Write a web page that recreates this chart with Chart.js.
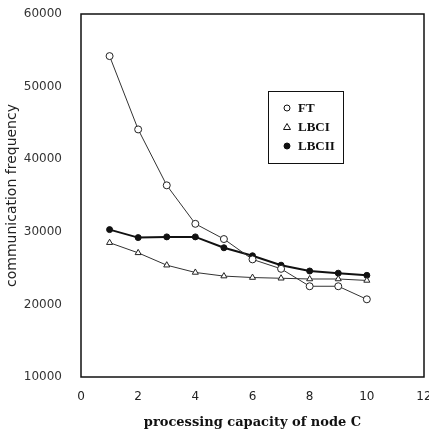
<!DOCTYPE html>
<html>
<head>
<meta charset="utf-8">
<script src="https://cdn.jsdelivr.net/npm/chart.js@4/dist/chart.umd.min.js"></script>
<style>
  html, body { margin: 0; padding: 0; background: #fff; }
  #wrap { width: 429px; height: 432px; position: relative; }
</style>
</head>
<body>
<div id="wrap"><canvas id="commChart"></canvas></div>
<script>
const capacity = [1, 2, 3, 4, 5, 6, 7, 8, 9, 10];
const ftValues = [54200, 44100, 36400, 31100, 29000, 26200, 24900, 22500, 22500, 20700];
const lbc1Values = [28500, 27100, 25400, 24400, 23900, 23700, 23600, 23500, 23500, 23300];
const lbc2Values = [30300, 29200, 29300, 29300, 27800, 26700, 25400, 24600, 24300, 24000];
const seriesNames = ["FT", "LBCI", "LBCII"];

const toPoints = (vals) => vals.map((v, i) => ({ x: capacity[i], y: v }));

// frame round the plot and the inset legend
const framePlugin = {
  id: "frame",
  afterDraw(chart) {
    const { ctx, chartArea: a } = chart;
    ctx.save();
    ctx.strokeStyle = "#111";
    ctx.lineWidth = 1.5;
    ctx.strokeRect(a.left, a.top, a.right - a.left, a.bottom - a.top);

    // legend box
    const bx = 268, by = 91, bw = 75, bh = 72;
    ctx.lineWidth = 1;
    ctx.strokeRect(bx + 0.5, by + 0.5, bw, bh);
    ctx.font = "bold 13px 'Liberation Serif', 'DejaVu Serif', serif";
    ctx.textBaseline = "middle";
    chart.data.datasets.forEach((ds, i) => {
      const y = by + 17 + i * 19;
      const mx = bx + 19;
      ctx.fillStyle = ds.pointBackgroundColor;
      ctx.strokeStyle = "#111";
      ctx.lineWidth = 1;
      ctx.beginPath();
      if (ds.pointStyle === "triangle") {
        ctx.moveTo(mx, y - 3.5);
        ctx.lineTo(mx + 3.5, y + 2.5);
        ctx.lineTo(mx - 3.5, y + 2.5);
        ctx.closePath();
      } else {
        ctx.arc(mx, y, 3, 0, Math.PI * 2);
      }
      ctx.fill();
      ctx.stroke();
      ctx.fillStyle = "#111";
      ctx.fillText(ds.label, bx + 30, y + 1);
    });
    ctx.restore();
  },
};

const ctx = document.getElementById("commChart").getContext("2d");

new Chart(ctx, {
  type: "line",
  data: {
    datasets: [
      {
        label: seriesNames[0],
        data: toPoints(ftValues),
        borderColor: "#333",
        borderWidth: 1,
        pointStyle: "circle",
        pointRadius: 3.5,
        pointBorderWidth: 1,
        pointBorderColor: "#222",
        pointBackgroundColor: "#fff",
        tension: 0,
      },
      {
        label: seriesNames[1],
        data: toPoints(lbc1Values),
        borderColor: "#333",
        borderWidth: 1,
        pointStyle: "triangle",
        pointRadius: 3.5,
        pointBorderWidth: 1,
        pointBorderColor: "#222",
        pointBackgroundColor: "#fff",
        tension: 0,
      },
      {
        label: seriesNames[2],
        data: toPoints(lbc2Values),
        borderColor: "#111",
        borderWidth: 2,
        pointStyle: "circle",
        pointRadius: 3,
        pointBorderWidth: 1,
        pointBorderColor: "#111",
        pointBackgroundColor: "#111",
        tension: 0,
      },
    ],
  },
  options: {
    responsive: true,
    maintainAspectRatio: false,
    animation: false,
    layout: { padding: { top: 14, right: 2, left: 0, bottom: 0 } },
    plugins: {
      legend: { display: false },
      tooltip: { enabled: false },
    },
    scales: {
      x: {
        type: "linear",
        min: 0,
        max: 12,
        ticks: {
          stepSize: 2,
          padding: 5,
          color: "#222",
          font: { family: "'DejaVu Sans', sans-serif", size: 12 },
        },
        grid: { display: false },
        border: { display: false },
        title: {
          display: true,
          text: "processing capacity of node C",
          color: "#111",
          padding: { top: 4, bottom: 2 },
          font: { family: "'DejaVu Serif', serif", size: 13, weight: "bold" },
        },
        afterFit(scale) {
          scale.height = 55;
          scale.paddingRight = 0;
        },
      },
      y: {
        min: 10000,
        max: 60000,
        ticks: {
          stepSize: 10000,
          padding: 11,
          color: "#333",
          font: { family: "'DejaVu Sans', sans-serif", size: 12 },
          callback: (v) => String(v),
        },
        grid: { display: false },
        border: { display: false },
        title: {
          display: true,
          text: "communication frequency",
          color: "#222",
          padding: { top: 4, bottom: 0 },
          font: { family: "'DejaVu Sans', sans-serif", size: 14 },
        },
        afterFit(scale) {
          scale.width = 81;
          scale.paddingTop = 0;
          scale.paddingBottom = 0;
        },
      },
    },
  },
  plugins: [framePlugin],
});
</script>
</body>
</html>
